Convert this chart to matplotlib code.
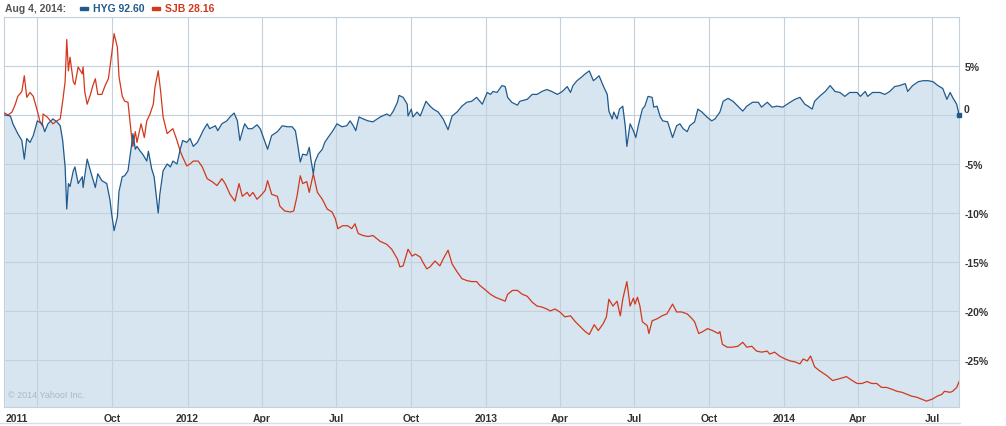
import matplotlib
matplotlib.use("Agg")
import matplotlib.pyplot as plt
import matplotlib.dates as mdates
import pandas as pd
from datetime import datetime, timedelta

# ---------------- data (percent change since start) ----------------
hyg_dates = [
 "2011-05-22","2011-05-29","2011-06-01","2011-06-07","2011-06-12","2011-06-15","2011-06-18","2011-06-22","2011-06-26",
 "2011-07-01","2011-07-07","2011-07-10","2011-07-14","2011-07-20","2011-07-25","2011-07-29","2011-08-01","2011-08-04",
 "2011-08-06","2011-08-08","2011-08-10","2011-08-14","2011-08-16","2011-08-20","2011-08-25","2011-08-26","2011-08-31",
 "2011-09-04","2011-09-10","2011-09-13","2011-09-18","2011-09-24","2011-09-28","2011-09-30","2011-10-03","2011-10-07",
 "2011-10-09","2011-10-13","2011-10-16","2011-10-20","2011-10-24","2011-10-26","2011-10-29","2011-10-31","2011-11-04",
 "2011-11-07","2011-11-12","2011-11-14","2011-11-18","2011-11-21","2011-11-23","2011-11-26","2011-11-28","2011-12-02",
 "2011-12-07","2011-12-11","2011-12-14","2011-12-19","2011-12-23","2011-12-26","2011-12-31","2012-01-04","2012-01-08",
 "2012-01-13","2012-01-16","2012-01-20","2012-01-25","2012-01-28","2012-02-04","2012-02-07","2012-02-12","2012-02-18",
 "2012-02-22","2012-02-27","2012-03-02","2012-03-05","2012-03-09","2012-03-11","2012-03-15","2012-03-20","2012-03-26",
 "2012-03-30","2012-04-02","2012-04-08","2012-04-13","2012-04-20","2012-04-26","2012-05-02","2012-05-08","2012-05-12",
 "2012-05-15","2012-05-18","2012-05-21","2012-05-26","2012-05-29","2012-05-31","2012-06-03","2012-06-05","2012-06-09",
 "2012-06-14","2012-06-17","2012-06-21","2012-06-27","2012-07-02","2012-07-08","2012-07-14","2012-07-18","2012-07-22",
 "2012-07-25","2012-07-29","2012-08-03","2012-08-09","2012-08-15","2012-08-24","2012-09-01","2012-09-05","2012-09-09",
 "2012-09-14","2012-09-16","2012-09-21","2012-09-26","2012-09-27","2012-10-01","2012-10-03","2012-10-08","2012-10-12",
 "2012-10-19","2012-10-24","2012-10-28","2012-11-03","2012-11-09","2012-11-15","2012-11-20","2012-11-26","2012-12-02",
 "2012-12-08","2012-12-14","2012-12-20","2012-12-27","2013-01-02","2013-01-06","2013-01-09","2013-01-14","2013-01-20",
 "2013-01-24","2013-01-27","2013-02-01","2013-02-08","2013-02-11","2013-02-20","2013-02-26","2013-03-04","2013-03-10",
 "2013-03-16","2013-03-22","2013-03-29","2013-04-04","2013-04-10","2013-04-14","2013-04-17","2013-04-22","2013-04-28",
 "2013-05-02","2013-05-07","2013-05-12","2013-05-15","2013-05-19","2013-05-24","2013-05-29","2013-05-31","2013-06-04",
 "2013-06-06","2013-06-10","2013-06-13","2013-06-17","2013-06-20","2013-06-22","2013-06-26","2013-06-30","2013-07-03",
 "2013-07-06","2013-07-11","2013-07-14","2013-07-18","2013-07-23","2013-07-25","2013-07-29","2013-08-02","2013-08-05",
 "2013-08-11","2013-08-17","2013-08-22","2013-08-26","2013-08-30","2013-09-04","2013-09-07","2013-09-13","2013-09-17",
 "2013-09-22","2013-09-28","2013-10-04","2013-10-08","2013-10-14","2013-10-18","2013-10-24","2013-10-30","2013-11-05",
 "2013-11-11","2013-11-16","2013-11-23","2013-11-30","2013-12-04","2013-12-11","2013-12-17","2013-12-23","2013-12-30",
 "2014-01-08","2014-01-14","2014-01-20","2014-01-26","2014-01-30","2014-02-04","2014-02-07","2014-02-13","2014-02-20",
 "2014-02-26","2014-03-04","2014-03-10","2014-03-16","2014-03-22","2014-03-31","2014-04-04","2014-04-10","2014-04-13",
 "2014-04-19","2014-04-28","2014-05-04","2014-05-10","2014-05-16","2014-05-22","2014-05-29","2014-06-01","2014-06-07",
 "2014-06-14","2014-06-20","2014-06-26","2014-07-02","2014-07-08","2014-07-14","2014-07-19","2014-07-23","2014-07-26",
 "2014-07-31","2014-08-03"]
hyg_pct = [
 0.0,-0.1,-0.9,-1.9,-2.6,-4.5,-2.4,-2.8,-2.1,
 -0.6,-0.9,-1.7,-0.9,-0.4,-0.7,-1.1,-2.6,-5.3,
 -9.6,-7.0,-7.3,-5.7,-5.3,-7.0,-6.3,-7.4,-4.5,
 -5.7,-7.4,-6.0,-6.7,-7.0,-8.7,-10.1,-11.8,-10.4,
 -7.8,-6.3,-6.2,-5.7,-3.3,-1.9,-3.5,-3.2,-3.7,
 -4.0,-4.7,-3.7,-5.5,-6.3,-7.8,-10.0,-8.1,-5.7,
 -5.0,-5.3,-4.7,-5.0,-3.5,-2.6,-2.8,-2.4,-3.2,
 -2.8,-2.3,-1.6,-0.9,-1.4,-1.1,-1.6,-0.9,-0.6,
 -0.2,0.2,-0.6,-2.6,-1.4,-0.9,-1.4,-1.4,-1.0,
 -1.4,-2.1,-3.5,-2.1,-1.7,-1.1,-1.2,-1.2,-1.6,
 -3.1,-4.8,-4.0,-4.1,-3.3,-4.5,-6.0,-4.8,-4.0,
 -3.5,-2.8,-2.3,-1.6,-0.9,-1.2,-1.1,-0.6,-1.1,
 -1.6,-0.2,-0.4,-0.6,-0.7,-0.2,0.1,-0.1,0.4,
 1.3,2.0,1.8,1.1,-0.1,0.6,-0.2,0.3,-0.1,
 1.4,0.9,0.6,0.3,-0.4,-1.5,-0.1,0.3,0.9,
 1.3,1.4,1.8,1.1,2.3,2.1,2.4,2.3,3.0,
 2.9,1.8,1.3,1.0,1.4,1.6,2.1,2.1,2.4,
 2.6,2.4,2.1,2.4,2.9,2.3,3.0,3.5,3.9,
 4.2,4.5,3.5,3.7,4.0,3.0,2.1,0.4,-0.4,
 0.3,-0.4,0.6,0.9,-1.1,-3.2,-0.9,-1.6,-2.3,
 -1.1,0.6,0.9,1.9,1.8,0.8,0.9,-0.2,-0.6,
 -0.7,-2.3,-1.1,-0.9,-1.4,-1.7,-1.1,-0.7,0.6,
 0.3,-0.2,-0.6,-0.4,0.3,1.4,1.7,1.4,0.9,
 0.4,0.9,1.3,1.3,0.8,1.3,0.8,0.9,0.8,
 1.3,1.6,1.8,1.1,0.9,0.6,1.4,1.9,2.4,
 3.0,2.4,2.3,1.9,2.3,2.3,1.9,2.4,1.9,
 2.3,2.3,2.1,2.4,2.9,3.0,3.2,2.4,3.0,
 3.4,3.5,3.5,3.4,3.0,2.7,1.6,2.3,1.8,
 1.1,0.0]

sjb_dates = [
 "2011-05-22","2011-05-26","2011-05-31","2011-06-04","2011-06-07","2011-06-12","2011-06-15","2011-06-18","2011-06-22",
 "2011-06-26","2011-07-01","2011-07-04","2011-07-07","2011-07-08","2011-07-13","2011-07-17","2011-07-20","2011-07-25",
 "2011-07-29","2011-08-01","2011-08-04","2011-08-06","2011-08-08","2011-08-10","2011-08-14","2011-08-16","2011-08-20",
 "2011-08-25","2011-08-26","2011-08-28","2011-08-31","2011-09-04","2011-09-07","2011-09-10","2011-09-13","2011-09-18",
 "2011-09-22","2011-09-26","2011-09-30","2011-10-03","2011-10-07","2011-10-09","2011-10-13","2011-10-16","2011-10-20",
 "2011-10-24","2011-10-26","2011-10-29","2011-10-31","2011-11-05","2011-11-09","2011-11-12","2011-11-16","2011-11-20",
 "2011-11-22","2011-11-26","2011-11-29","2011-12-02","2011-12-07","2011-12-11","2011-12-14","2011-12-19","2011-12-23",
 "2011-12-26","2011-12-31","2012-01-04","2012-01-08","2012-01-14","2012-01-19","2012-01-25","2012-01-31","2012-02-06",
 "2012-02-12","2012-02-16","2012-02-22","2012-02-28","2012-03-04","2012-03-08","2012-03-14","2012-03-17","2012-03-21",
 "2012-03-26","2012-04-01","2012-04-05","2012-04-08","2012-04-13","2012-04-20","2012-04-23","2012-04-29","2012-05-06",
 "2012-05-10","2012-05-14","2012-05-18","2012-05-21","2012-05-26","2012-05-29","2012-06-03","2012-06-08","2012-06-14",
 "2012-06-20","2012-06-26","2012-06-30","2012-07-03","2012-07-09","2012-07-15","2012-07-20","2012-07-24","2012-07-28",
 "2012-08-03","2012-08-09","2012-08-15","2012-08-24","2012-09-01","2012-09-07","2012-09-14","2012-09-17","2012-09-21",
 "2012-09-27","2012-10-02","2012-10-06","2012-10-12","2012-10-15","2012-10-20","2012-10-24","2012-10-30","2012-11-05",
 "2012-11-09","2012-11-15","2012-11-20","2012-11-26","2012-12-02","2012-12-08","2012-12-14","2012-12-20","2012-12-24",
 "2012-12-30","2013-01-06","2013-01-12","2013-01-18","2013-01-24","2013-01-27","2013-02-02","2013-02-08","2013-02-14",
 "2013-02-20","2013-02-26","2013-03-04","2013-03-10","2013-03-16","2013-03-20","2013-03-26","2013-04-01","2013-04-07",
 "2013-04-14","2013-04-20","2013-04-26","2013-05-02","2013-05-07","2013-05-13","2013-05-18","2013-05-24","2013-05-28",
 "2013-05-31","2013-06-05","2013-06-10","2013-06-14","2013-06-17","2013-06-22","2013-06-26","2013-06-30","2013-07-02",
 "2013-07-05","2013-07-08","2013-07-11","2013-07-17","2013-07-19","2013-07-23","2013-07-29","2013-08-04","2013-08-10",
 "2013-08-17","2013-08-22","2013-08-28","2013-09-04","2013-09-10","2013-09-13","2013-09-18","2013-09-23","2013-09-29",
 "2013-10-05","2013-10-12","2013-10-14","2013-10-17","2013-10-23","2013-10-29","2013-11-05","2013-11-11","2013-11-16",
 "2013-11-22","2013-11-28","2013-12-04","2013-12-11","2013-12-14","2013-12-20","2013-12-26","2014-01-02","2014-01-08",
 "2014-01-14","2014-01-20","2014-01-24","2014-01-29","2014-02-02","2014-02-07","2014-02-13","2014-02-22","2014-03-01",
 "2014-03-10","2014-03-18","2014-03-25","2014-03-31","2014-04-06","2014-04-12","2014-04-18","2014-04-24","2014-04-30",
 "2014-05-06","2014-05-13","2014-05-19","2014-05-25","2014-05-31","2014-06-06","2014-06-12","2014-06-18","2014-06-24",
 "2014-07-01","2014-07-07","2014-07-13","2014-07-16","2014-07-23","2014-07-26","2014-07-31","2014-08-03"]
sjb_pct = [
 0.2,0.0,0.3,1.1,1.9,2.4,4.0,1.8,2.3,
 1.9,0.4,-0.6,-1.1,0.1,-0.2,-0.6,-0.9,-0.6,
 -0.4,1.4,3.4,7.7,4.5,5.9,3.4,3.1,4.9,
 4.2,4.9,2.4,1.1,2.1,3.0,3.7,2.1,2.1,
 3.0,3.7,6.2,8.3,6.9,3.9,1.9,1.4,1.3,
 -1.9,-3.2,-1.7,-2.8,-0.9,-2.3,-0.6,0.1,1.1,
 2.8,4.5,2.4,-0.2,-1.9,-1.6,-1.4,-2.6,-3.7,
 -4.3,-5.2,-5.0,-4.7,-4.7,-5.3,-6.5,-6.8,-7.2,
 -6.5,-7.0,-8.1,-8.8,-7.0,-8.3,-7.9,-8.3,-7.9,
 -8.6,-8.1,-7.7,-6.7,-8.1,-8.3,-9.3,-9.8,-9.9,
 -9.8,-8.3,-6.2,-7.0,-6.8,-7.9,-6.0,-7.9,-8.6,
 -9.6,-9.9,-10.6,-11.6,-11.3,-11.3,-11.6,-11.1,-12.1,
 -12.3,-12.4,-12.3,-12.9,-13.2,-13.7,-14.7,-15.5,-15.4,
 -13.7,-14.4,-14.2,-14.5,-15.0,-15.7,-15.5,-14.9,-15.4,
 -14.7,-13.8,-15.2,-16.0,-16.7,-16.9,-17.0,-17.0,-17.4,
 -17.8,-18.3,-18.6,-18.8,-19.0,-18.3,-17.9,-17.9,-18.3,
 -18.5,-19.1,-19.5,-19.6,-19.8,-20.0,-19.8,-20.1,-20.6,
 -20.5,-21.1,-21.6,-22.1,-22.4,-21.4,-22.0,-21.3,-20.6,
 -18.8,-19.5,-19.0,-20.5,-18.8,-17.0,-19.5,-18.7,-19.3,
 -18.6,-19.5,-21.1,-21.5,-22.3,-21.0,-20.8,-20.5,-20.3,
 -19.3,-20.1,-20.1,-20.3,-20.8,-21.1,-22.3,-22.1,-21.8,
 -22.0,-22.3,-22.1,-23.4,-23.7,-23.7,-23.6,-23.2,-23.7,
 -23.6,-24.1,-24.2,-24.1,-24.4,-24.2,-24.6,-24.9,-25.1,
 -25.2,-25.4,-24.9,-25.1,-24.6,-25.7,-26.1,-26.6,-27.1,
 -26.9,-26.7,-27.1,-27.4,-27.4,-27.2,-27.4,-27.4,-27.8,
 -27.8,-28.0,-28.2,-28.3,-28.5,-28.7,-28.8,-29.0,-29.2,
 -29.0,-28.7,-28.5,-28.2,-28.3,-28.2,-27.8,-27.2]

legend_date = "Aug 4, 2014:"
series_names = ["HYG", "SJB"]
last_prices = ["92.60", "28.16"]
y_ticks = [-25, -20, -15, -10, -5, 0, 5]
y_labels = ["-25%", "-20%", "-15%", "-10%", "-5%", "0", "5%"]
x_tick_dates = ["2011-07-01", "2011-10-01", "2012-01-01", "2012-04-01", "2012-07-01", "2012-10-01",
                "2013-01-01", "2013-04-01", "2013-07-01", "2013-10-01", "2014-01-01", "2014-04-01", "2014-07-01"]
x_tick_labels = ["", "Oct", "2012", "Apr", "Jul", "Oct", "2013", "Apr", "Jul", "Oct", "2014", "Apr", "Jul"]

# ---------------- style ----------------
HYG_C = "#1f5a8e"
SJB_C = "#d2381c"
FILL_C = "#d6e5f0"
GRID_C = "#c4d1db"
TXT_C = "#333333"
FONT = ["Liberation Sans", "DejaVu Sans"]
plt.rcParams["font.family"] = FONT

W, H = 1006, 427
fig = plt.figure(figsize=(W / 100, H / 100), dpi=100)
L, R, T, B = 4.3, 959.3, 18, 408
ax = fig.add_axes([L / W, 1 - B / H, (R - L) / W, (B - T) / H])

hd = pd.to_datetime(hyg_dates)
sd = pd.to_datetime(sjb_dates)

ymin, ymax = -29.8, 10.0
ax.set_ylim(ymin, ymax)
x0 = datetime(2011, 7, 1) - timedelta(days=40.5)
x1 = datetime(2011, 7, 1) + timedelta(days=1129.2)
ax.set_xlim(x0, x1)

ax.fill_between(hd, hyg_pct, ymin, color=FILL_C, lw=0, zorder=1)
ax.plot(sd, sjb_pct, color=SJB_C, lw=0.9, zorder=3)
ax.plot(hd, hyg_pct, color=HYG_C, lw=0.9, zorder=4)
ax.plot(hd[-1:], hyg_pct[-1:], marker="s", ms=3, color=HYG_C, zorder=5, clip_on=False)

# grid
ax.set_yticks(y_ticks + [10])
ax.set_xticks(pd.to_datetime(x_tick_dates))
ax.grid(True, color=GRID_C, lw=0.8, zorder=2)
ax.set_axisbelow("line")
ax.tick_params(length=0)
ax.set_xticklabels(x_tick_labels, fontsize=7.5, fontweight="bold", color=TXT_C)
ax.tick_params(axis="x", pad=4)
ax.yaxis.tick_right()
ax.set_yticklabels([l if l != "0" else "" for l in y_labels] + [""],
                   fontsize=7.5, fontweight="bold", color=TXT_C)
ax.tick_params(axis="y", pad=4)
ax.annotate("0", xy=(1, 0), xycoords=ax.get_yaxis_transform(), xytext=(4, 6),
            textcoords="offset pixels", ha="left", va="center",
            fontsize=7.5, fontweight="bold", color=TXT_C)
for s in ax.spines.values():
    s.set_color(GRID_C)
    s.set_linewidth(0.8)

# left "2011" label
ax.annotate("2011", xy=(0, 0), xycoords="axes fraction", xytext=(1, -11),
            textcoords="offset pixels", ha="left", va="center",
            fontsize=7.5, fontweight="bold", color=TXT_C)

# copyright
ax.text(0.004, 0.02, "\u00a9 2014 Yahoo! Inc.", transform=ax.transAxes,
        fontsize=6.5, color="#aab8c4", ha="left", va="bottom")

# header legend
fig.text(5 / W, 1 - 9 / H, legend_date, fontsize=7.5, fontweight="bold",
         color="#555555", ha="left", va="center")
fig.patches.append(plt.Rectangle((80 / W, 1 - 11 / H), 8 / W, 3.5 / H,
                                 transform=fig.transFigure, color=HYG_C))
fig.text(93 / W, 1 - 9 / H, f"{series_names[0]} {last_prices[0]}", fontsize=7.5,
         fontweight="bold", color=HYG_C, ha="left", va="center")
fig.patches.append(plt.Rectangle((152 / W, 1 - 11 / H), 8 / W, 3.5 / H,
                                 transform=fig.transFigure, color=SJB_C))
fig.text(165 / W, 1 - 9 / H, f"{series_names[1]} {last_prices[1]}", fontsize=7.5,
         fontweight="bold", color=SJB_C, ha="left", va="center")

# separator line under x labels
fig.add_artist(plt.Line2D([0, 960 / W], [1 - 424 / H, 1 - 424 / H],
                          transform=fig.transFigure, color="#dddddd", lw=1))

fig.savefig("out.png", dpi=100)
